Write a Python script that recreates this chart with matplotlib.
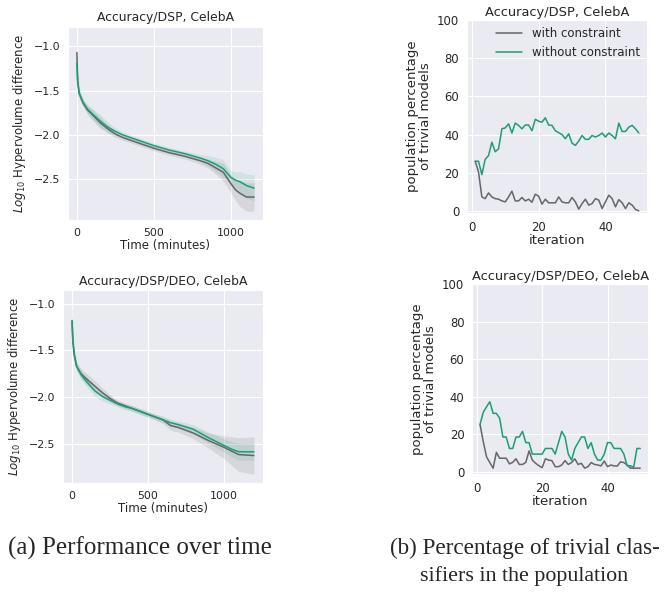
import numpy as np
import matplotlib
matplotlib.use('Agg')
import matplotlib.pyplot as plt
import seaborn as sns

# Hypervolume difference over time (log10), Accuracy/DSP
t_dsp = [0, 5, 15, 40, 70, 100, 150, 200, 250, 300, 400, 500, 600, 700, 800,
         850, 900, 950, 1000, 1030, 1060, 1100, 1150]
hv_dsp_with = [-1.07, -1.38, -1.53, -1.64, -1.72, -1.77, -1.86, -1.93, -1.99, -2.03, -2.09,
               -2.15, -2.20, -2.24, -2.29, -2.32, -2.37, -2.42, -2.55, -2.62, -2.66, -2.70, -2.70]
hv_dsp_without = [-1.19, -1.40, -1.53, -1.63, -1.71, -1.76, -1.84, -1.91, -1.96, -2.00, -2.06,
                  -2.12, -2.17, -2.21, -2.26, -2.29, -2.33, -2.38, -2.48, -2.51, -2.53, -2.57, -2.60]
sd_dsp_with = [0.19, 0.10, 0.05, 0.04, 0.05, 0.06, 0.06, 0.05, 0.04, 0.03, 0.03,
               0.03, 0.03, 0.03, 0.04, 0.05, 0.07, 0.10, 0.10, 0.12, 0.15, 0.16, 0.16]
sd_dsp_without = [0.25, 0.10, 0.05, 0.04, 0.05, 0.06, 0.07, 0.06, 0.04, 0.03, 0.03,
                  0.03, 0.03, 0.03, 0.04, 0.06, 0.08, 0.10, 0.08, 0.09, 0.12, 0.13, 0.15]

# Accuracy/DSP/DEO
t_deo = [0, 5, 15, 30, 60, 100, 150, 200, 250, 300, 350, 400, 450, 500, 550, 600,
         650, 700, 800, 900, 1000, 1050, 1100, 1200]
hv_deo_with = [-1.18, -1.40, -1.55, -1.67, -1.75, -1.81, -1.88, -1.95, -2.01, -2.06, -2.09, -2.12,
               -2.15, -2.18, -2.21, -2.24, -2.30, -2.32, -2.38, -2.46, -2.53, -2.57, -2.61, -2.62]
hv_deo_without = [-1.19, -1.40, -1.55, -1.67, -1.76, -1.84, -1.93, -1.99, -2.03, -2.07, -2.10, -2.12,
                  -2.15, -2.18, -2.21, -2.24, -2.27, -2.29, -2.34, -2.43, -2.51, -2.55, -2.58, -2.58]
sd_deo_with = [0.23, 0.10, 0.06, 0.05, 0.05, 0.06, 0.06, 0.05, 0.04, 0.03, 0.03, 0.03,
               0.03, 0.03, 0.03, 0.04, 0.05, 0.05, 0.06, 0.08, 0.12, 0.15, 0.18, 0.20]
sd_deo_without = [0.15, 0.08, 0.05, 0.04, 0.05, 0.05, 0.06, 0.05, 0.04, 0.03, 0.03, 0.03,
                  0.03, 0.03, 0.03, 0.03, 0.04, 0.04, 0.05, 0.06, 0.07, 0.08, 0.09, 0.09]

# Percentage of trivial models per iteration
iterations = list(range(1, 51))
triv_dsp_with = [26, 20.4, 7.3, 6.4, 9.4, 7.3, 6.4, 6.1, 5.2, 4.7,
                 7.3, 10.3, 5.2, 5.2, 7, 5.2, 6.1, 4.5, 8.7, 7.7,
                 3.5, 6.1, 4.2, 4.2, 4.2, 7.3, 4.7, 4.2, 4.2, 7,
                 4.7, 0.9, 3.8, 6.1, 3, 3.8, 6.4, 5.6, 1.2, 4.7,
                 8.2, 6.4, 2.1, 5.9, 4.2, 1.2, 4.2, 3, 0.7, 0]
triv_dsp_without = [26, 26, 19, 27, 29, 36, 31, 32.5, 43, 43.5,
                    45.6, 40.8, 46, 44.8, 43, 45, 45, 42, 48, 47,
                    46.5, 48.8, 45, 44.8, 42, 41, 40, 37.8, 40.4, 35.5,
                    34.3, 36.6, 39.5, 37.5, 37.5, 39.5, 38.7, 39.5, 40.8, 38.7,
                    40.8, 39.5, 37.8, 46, 41.6, 41.6, 43.9, 44.8, 43, 40.8]
triv_deo_with = [25.3, 16, 8, 5, 2, 10.4, 7.3, 7.3, 7.3, 4.3,
                 5.1, 7, 4, 4, 5.1, 11.2, 6.3, 4.6, 3.3, 2.3,
                 7, 6.3, 6, 2.8, 2.8, 3.7, 6, 4, 5, 7,
                 4, 4.6, 2, 2.8, 5, 4, 3.7, 3.2, 5.8, 2.8,
                 3.7, 3.2, 3.2, 5.4, 5, 3.7, 2, 2, 2, 2]
triv_deo_without = [25.3, 31.8, 34.7, 37.4, 31.2, 31.2, 28.6, 18.6, 18.6, 12.5,
                    12.5, 18.6, 18.6, 21.6, 15.6, 15.6, 9.5, 9.5, 9.5, 9.5,
                    12.5, 12.5, 12.5, 9.5, 15.6, 21.6, 18.6, 9.5, 6.3, 12.5,
                    15.6, 18.6, 18.6, 12.5, 15.6, 9.5, 6.3, 6.3, 9.5, 15.6,
                    15.6, 12.5, 12.5, 12.5, 9.5, 3.3, 3.3, 2.5, 12.5, 12.5]

c_with = '#666666'
c_without = '#1b9e77'

sns.set_style('darkgrid')
plt.rcParams['font.family'] = ['DejaVu Sans']

fig = plt.figure(figsize=(6.7, 5.92), dpi=100)

ax_tl = fig.add_axes([0.1015, 0.6284, 0.291, 0.326])
ax_bl = fig.add_axes([0.094, 0.184, 0.2985, 0.326])
ax_tr = fig.add_axes([0.697, 0.640, 0.2687, 0.326])
ax_br = fig.add_axes([0.7045, 0.199, 0.263, 0.321])

# left column: hypervolume difference
for ax, t, m_w, s_w, m_wo, s_wo, title in [
        (ax_tl, t_dsp, hv_dsp_with, sd_dsp_with, hv_dsp_without, sd_dsp_without,
         'Accuracy/DSP, CelebA'),
        (ax_bl, t_deo, hv_deo_with, sd_deo_with, hv_deo_without, sd_deo_without,
         'Accuracy/DSP/DEO, CelebA')]:
    t = np.array(t)
    m_w, s_w = np.array(m_w), np.array(s_w)
    m_wo, s_wo = np.array(m_wo), np.array(s_wo)
    ax.fill_between(t, m_w - s_w, m_w + s_w, color=c_with, alpha=0.15, lw=0)
    ax.fill_between(t, m_wo - s_wo, m_wo + s_wo, color=c_without, alpha=0.12, lw=0)
    ax.plot(t, m_w, color=c_with, lw=1.1)
    ax.plot(t, m_wo, color=c_without, lw=1.1)
    ax.set_title(title, fontsize=8.9, pad=4)
    ax.set_xlabel('Time (minutes)', fontsize=8.5, labelpad=1)
    ax.set_ylabel(r'$Log_{10}$ Hypervolume difference', fontsize=8.5)
    ax.set_xticks([0, 500, 1000])
    ax.set_yticks([-1.0, -1.5, -2.0, -2.5])
    ax.tick_params(labelsize=7.9, pad=2)

# right column: trivial models
for ax, w, wo, title in [
        (ax_tr, triv_dsp_with, triv_dsp_without, 'Accuracy/DSP, CelebA'),
        (ax_br, triv_deo_with, triv_deo_without, 'Accuracy/DSP/DEO, CelebA')]:
    ax.plot(iterations, w, color=c_with, lw=1.1, label='with constraint')
    ax.plot(iterations, wo, color=c_without, lw=1.1, label='without constraint')
    ax.set_ylim(-1.2, 100)
    ax.set_yticks([0, 20, 40, 60, 80, 100])
    ax.set_xticks([0, 20, 40])
    ax.set_title(title, fontsize=9.4, pad=3)
    ax.set_xlabel('iteration', fontsize=9.5, labelpad=0)
    ax.set_ylabel('population percentage\nof trivial models', fontsize=9.5, linespacing=0.95)
    ax.tick_params(labelsize=8.4, pad=2)

ax_tr.legend(loc='upper right', frameon=False, fontsize=8.5, handlelength=2.2,
             borderaxespad=0.2)

fig.text(0.012, 1 - 548 / 592, '(a) Performance over time', family='Liberation Serif',
         fontsize=18, va='center', ha='left')
fig.text(0.582, 1 - 548 / 592, '(b) Percentage of trivial clas-', family='Liberation Serif',
         fontsize=16.7, va='center', ha='left')
fig.text(0.627, 1 - 576 / 592, 'sifiers in the population', family='Liberation Serif',
         fontsize=15.8, va='center', ha='left')

fig.savefig('out.png', dpi=100)
